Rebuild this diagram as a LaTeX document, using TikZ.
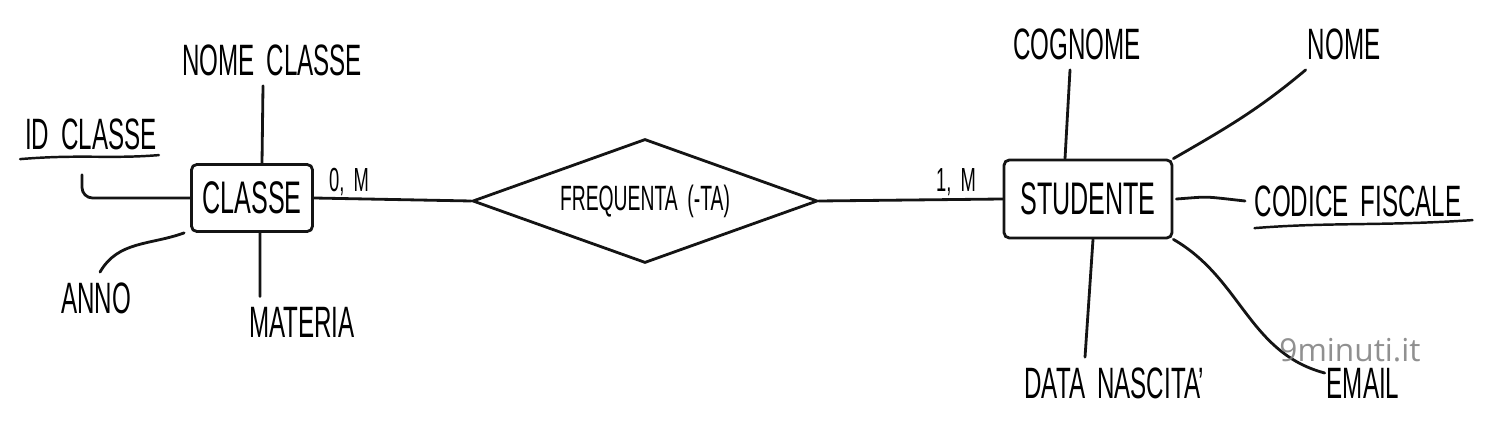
\documentclass[tikz,border=0pt]{standalone}
\usepackage{fontspec}
\setmainfont{Liberation Sans}[FakeStretch=0.55, WordSpace=1.8]
\newfontfamily\wmfont{Open Sans}
\usepackage{xcolor}
\usepackage{tikz}
\usetikzlibrary{shapes.geometric, positioning}
\definecolor{inkblack}{RGB}{20,20,20}
\definecolor{wmgray}{RGB}{125,125,125}

\begin{document}
\begin{tikzpicture}[
    x=0.02cm, y=-0.02cm,
    entity/.style={rectangle, draw=inkblack, line width=1.6pt, rounded corners=3pt, inner sep=0pt, font=\fontsize{26}{30}\selectfont},
    rel/.style={diamond, draw=inkblack, line width=1.6pt, aspect=2.8, inner sep=0pt, minimum width=6.9cm, minimum height=2.48cm, font=\fontsize{20}{24}\selectfont},
    attrib/.style={inner xsep=1pt, inner ysep=0.2cm, font=\fontsize{25}{30}\selectfont},
    card/.style={inner sep=0pt, font=\fontsize{19}{22}\selectfont},
    link/.style={draw=inkblack, line width=1.6pt, line cap=round},
    uline/.style={draw=inkblack, line width=1.4pt, line cap=round},
    wmark/.style={text=wmgray, opacity=0.85, font=\wmfont\fontsize{18}{22}\selectfont}
]
    \useasboundingbox (0,0) rectangle (1486,445);

    % Entities and relationship
    \node[entity, minimum width=2.42cm, minimum height=1.34cm] (classe) at (252, 198) {CLASSE};
    \node[rel] (freq) at (645, 201) {FREQUENTA (-TA)};
    \node[entity, minimum width=3.36cm, minimum height=1.56cm] (studente) at (1088, 199) {STUDENTE};

    % Cardinalities
    \node[card] (cardcl) at (349, 182) {0, M};
    \node[card] (cardst) at (956, 182) {1, M};

    % Attributes of CLASSE
    \node[attrib] (nomecl) at (272, 60) {NOME CLASSE};
    \node[attrib] (idcl) at (91, 134) {ID CLASSE};
    \node[attrib] (anno) at (96, 298) {ANNO};
    \node[attrib] (materia) at (302, 322) {MATERIA};

    % Attributes of STUDENTE
    \node[attrib] (cognome) at (1077, 44) {COGNOME};
    \node[attrib] (nome) at (1344, 44) {NOME};
    \node[attrib] (codfis) at (1358, 201) {CODICE FISCALE};
    \node[attrib] (datanas) at (1114, 383) {DATA NASCITA'};
    \node[attrib] (email) at (1363, 383) {EMAIL};

    % Key underlines
    \draw[uline] ([shift={(-0.06cm,-0.2cm)}]idcl.base west) .. controls +(1.2cm,0.1cm) and +(-1cm,-0.08cm) .. ([yshift=-0.12cm]idcl.base east);
    \draw[uline] ([shift={(0.04cm,-0.24cm)}]codfis.base west) .. controls +(1.5cm,0.12cm) and +(-1.8cm,-0.12cm) .. ([shift={(0.18cm,-0.08cm)}]codfis.base east);

    % Links
    \draw[link] ([xshift=-0.18cm]nomecl.south) -- ([xshift=0.2cm]classe.north);
    \draw[link, rounded corners=6pt] ([shift={(-0.18cm,-0.3cm)}]idcl.south) |- (classe.west);
    \draw[link] ([xshift=0.08cm]anno.north) to[out=60, in=200] ([xshift=-0.12cm]classe.south west);
    \draw[link] ([xshift=-0.84cm]materia.north) -- ([xshift=0.16cm]classe.south);

    \draw[link] (classe.east) -- (freq.west);
    \draw[link] (freq.east) -- (studente.west);

    \draw[link] ([xshift=-0.14cm]cognome.south) -- ([xshift=-0.46cm]studente.north);
    \draw[link] (nome.south west) to[out=220, in=30] (studente.north east);
    \draw[link] ([xshift=-0.15cm]codfis.west) .. controls +(-0.9cm,0.1cm) and +(0.7cm,0.05cm) .. ([xshift=0.06cm]studente.east);
    \draw[link] ([xshift=-0.58cm]datanas.north) -- ([xshift=0.1cm]studente.south);
    \draw[link] (studente.south east) to[out=-30, in=165] ([yshift=0.2cm]email.west);

    % Watermark
    \node[wmark] (wm) at (1350, 350) {9minuti.it};
\end{tikzpicture}
\end{document}
